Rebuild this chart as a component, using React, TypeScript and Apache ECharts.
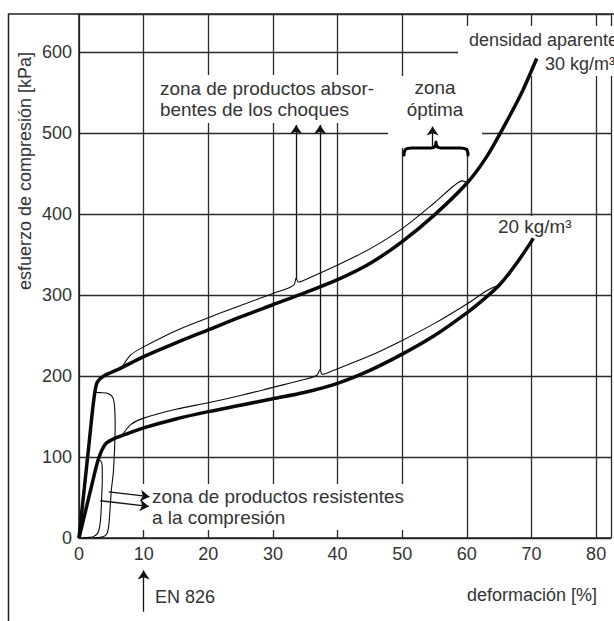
import React, { useEffect, useRef } from "react";
import * as echarts from "echarts";

// ---- data (x = deformación [%], y = esfuerzo [kPa]) ----
const xTickLabels = [0, 10, 20, 30, 40, 50, 60, 70, 80];
const yTickLabels = [0, 100, 200, 300, 400, 500, 600];

const thick30 = [
  [0, 0], [0.8, 60], [1.6, 120], [2.2, 165], [2.7, 190], [3.3, 197], [4.3, 202], [6, 208],
  [8, 216], [10, 224], [15, 241], [20, 257], [25, 273], [30, 288], [35, 303], [40, 319],
  [45, 339], [50, 366], [55, 399], [60, 438], [63, 470], [66, 512], [68.5, 550], [70.8, 592],
];
const thin30 = [
  [6.6, 210], [8, 226], [10, 236], [15, 256], [20, 272], [25, 287], [30, 302], [32.5, 309],
  [33.3, 313], [33.6, 321], [33.9, 316], [35, 319], [40, 337], [45, 357], [50, 382], [55, 414],
  [58, 435], [59.3, 441], [60, 439],
];
const unload30 = [
  [2.5, 180], [3.2, 179.5], [4.2, 179], [4.9, 176.5], [5.3, 172], [5.5, 162], [5.6, 140],
  [5.5, 110], [5.3, 80], [5.0, 59], [4.8, 35], [4.6, 15], [4.3, 5], [3.7, 1.5], [2.8, 0.5], [2.2, 0],
];
const thick20 = [
  [0, 0], [1, 33], [2, 66], [2.8, 92], [3.4, 106], [4.2, 117], [5.5, 123], [7.5, 129], [10, 136],
  [15, 147], [20, 156], [25, 164], [30, 172], [35, 180], [40, 191], [45, 207], [50, 227],
  [55, 250], [60, 278], [62.5, 294], [65, 312], [67.5, 337], [70.3, 370],
];
const thin20 = [
  [6.7, 127], [8, 140], [10, 148], [15, 159], [20, 167], [25, 176], [30, 186], [35, 196],
  [36.8, 201], [37.3, 208], [37.6, 202], [38.5, 204], [40, 209], [45, 225], [50, 244],
  [55, 265], [60, 289], [63, 305], [64.2, 310], [65, 312],
];
const unload20 = [
  [2.7, 96], [3.2, 96], [3.5, 93], [3.6, 86], [3.6, 70], [3.5, 50], [3.4, 30], [3.2, 14],
  [2.9, 6], [2.3, 2], [1.6, 0.8], [0.5, 0],
];

// annotation arrows [start, tip] in data coordinates
const arrowAbsorb30 = [[33.6, 320], [33.6, 510]];
const arrowAbsorb20 = [[37.3, 207], [37.3, 510]];
const arrowOptimal = [[54.7, 484], [54.7, 508]];
const arrowResist1 = [[4.6, 57], [10.9, 51]];
const arrowResist2 = [[3.3, 46], [10.8, 39]];
const arrowEN = [[10, -91], [10, -40]];

const BRACE_D =
  "M0 13 C0 7 2 6 8 6 L27 6 C30 6 32 4 32 0 C32 4 34 6 37 6 L56 6 C62 6 64 7 64 13";
try {
  echarts.graphic.registerShape("brace", echarts.graphic.extendPath(BRACE_D, {}) as any);
} catch (e) {}

const FONT = "'Liberation Sans', Arial, sans-serif";
const TXT = "#333";

export default function App() {
  const ref = useRef<HTMLDivElement>(null);
  useEffect(() => {
    if (!ref.current) return;
    document.body.style.margin = "0";
    const chart = echarts.init(ref.current, null, { renderer: "svg" });

    const curve = (data: number[][], width: number) => ({
      type: "line",
      data,
      showSymbol: false,
      symbol: "none",
      smooth: 0.3,
      z: 3,
      silent: true,
      lineStyle: { color: "#0a0a0a", width },
    });

    const box = (x: number, y: number, w: number, h: number) => ({
      type: "rect",
      z: 1,
      silent: true,
      shape: { x, y, width: w, height: h },
      style: { fill: "#fff" },
    });
    const txt = (text: string, x: number, y: number, align = "left", extra: any = {}) => ({
      type: "text",
      z: 6,
      silent: true,
      x,
      y,
      ...extra,
      style: { text, fill: TXT, font: `18px ${FONT}`, align, verticalAlign: "middle" },
    });
    const wide = { scaleX: 1.05 };

    const option: any = {
      animation: false,
      grid: { left: 79, top: 14, right: 0, bottom: 83, containLabel: false },
      xAxis: {
        type: "value",
        min: 0,
        max: 82.3,
        interval: 10,
        axisLine: { show: true, lineStyle: { color: "#222", width: 1.6 } },
        axisTick: { show: false },
        splitLine: { show: true, lineStyle: { color: "#2a2a2a", width: 1.3 } },
        axisLabel: {
          margin: 7,
          color: TXT,
          fontSize: 18,
          fontFamily: FONT,
          formatter: (v: number) =>
            Math.abs(v - Math.round(v)) < 1e-6 && xTickLabels.includes(Math.round(v)) ? String(v) : "",
        },
      },
      yAxis: {
        type: "value",
        min: 0,
        max: 647,
        interval: 100,
        axisLine: { show: true, lineStyle: { color: "#222", width: 1.6 } },
        axisTick: { show: false },
        splitLine: { show: true, lineStyle: { color: "#2a2a2a", width: 1.3 } },
        axisLabel: {
          margin: 7,
          color: TXT,
          fontSize: 18,
          fontFamily: FONT,
          formatter: (v: number) => (yTickLabels.includes(v) ? String(v) : ""),
        },
      },
      series: [
        curve(thick30, 3.5),
        curve(thin30, 1.1),
        curve(unload30, 1.1),
        curve(thick20, 3.5),
        curve(thin20, 1.1),
        curve(unload20, 1.1),
        {
          type: "lines",
          coordinateSystem: "cartesian2d",
          clip: false,
          z: 4,
          silent: true,
          symbol: ["none", "arrow"],
          symbolSize: 9,
          lineStyle: { color: "#111", width: 1.3, opacity: 1 },
          data: [arrowAbsorb30, arrowAbsorb20, arrowOptimal, arrowResist1, arrowResist2, arrowEN].map(
            (c) => ({ coords: c })
          ),
        },
      ],
      graphic: [
        {
          type: "rect",
          z: 0,
          silent: true,
          shape: { x: 8.5, y: 14, width: 700, height: 700 },
          style: { fill: "none", stroke: "#222", lineWidth: 1.5 },
        },
        box(152, 75, 230, 48),
        box(388, 76, 94, 72),
        box(458, 26, 160, 50),
        box(495, 216, 84, 22),
        box(140, 484, 270, 46),
        {
          type: "brace",
          z: 5,
          silent: true,
          x: 404,
          y: 142,
          style: { fill: "none", stroke: "#000", lineWidth: 3, lineCap: "round", lineJoin: "round" },
        },
        txt("zona de productos absor-", 160, 89, "left", wide),
        txt("bentes de los choques", 160, 110, "left", wide),
        txt("zona", 435, 88, "center", wide),
        txt("óptima", 435, 110, "center", wide),
        txt("densidad aparente", 469, 40),
        txt("30 kg/m³", 545, 64),
        txt("20 kg/m³", 498, 227, "left", wide),
        txt("zona de productos resistentes", 152, 497, "left", wide),
        txt("a la compresión", 152, 518, "left", wide),
        txt("EN 826", 155, 597),
        txt("deformación [%]", 467, 595),
        txt("esfuerzo de compresión [kPa]", 25, 171, "center", { rotation: Math.PI / 2 }),
      ],
    };
    chart.setOption(option);
    return () => chart.dispose();
  }, []);
  return (
    <div
      ref={ref}
      style={{ position: "absolute", left: 0, top: 0, width: 614, height: 621 }}
    />
  );
}
